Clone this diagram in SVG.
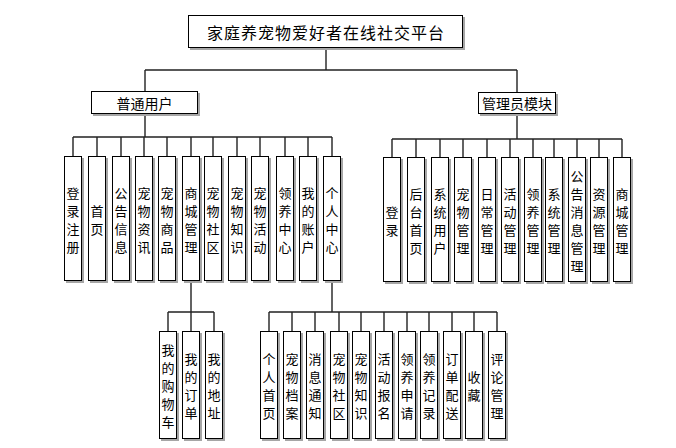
<svg xmlns="http://www.w3.org/2000/svg" width="676" height="448" viewBox="0 0 676 448">
<style>
.sh{fill:#a6a6a6}
.bx{fill:#fff;stroke:#000;stroke-width:1}
.t{font-family:"Noto Sans CJK SC","Noto Sans CJK TC",sans-serif;font-size:13px;text-anchor:middle;dominant-baseline:central;fill:#000}
.h{font-size:14px}
.r{font-size:16px;letter-spacing:1px}
.c{fill:none;stroke:#222;stroke-width:1.4}
</style>
<rect width="676" height="448" fill="#fff"/>
<g id="connectors" class="c">
<path d="M326 48V70M145 70H517M145 70V91M517 70V92"/>
<path d="M145 114V137M73 137H332M73 137V156M97 137V156M121 137V156M144 137V156M167 137V156M191 137V156M213 137V156M237 137V156M260 137V156M285 137V156M308 137V156M332 137V156"/>
<path d="M517 114V139M392 139H622M392 139V157M416 139V157M440 139V157M463 139V157M487 139V157M510 139V157M533 139V157M554 139V157M577 139V157M599 139V157M622 139V157"/>
<path d="M191 281V312M168 312H214M168 312V331M191 312V331M214 312V331"/>
<path d="M332 281V312M269 312H497M269 312V331M292 312V331M315 312V331M339 312V331M361 312V331M384 312V331M407 312V331M429 312V331M452 312V331M474 312V331M497 312V331"/>
</g>
<g id="root"><rect class="sh" x="190" y="17" width="275" height="33"/><rect class="bx" x="188.5" y="15.5" width="274" height="32"/><text class="t r" x="326" y="32">家庭养宠物爱好者在线社交平台</text></g>
<g id="user"><rect class="sh" x="93" y="93" width="107" height="23"/><rect class="bx" x="91.5" y="91.5" width="106" height="22"/><text class="t h" x="144.5" y="102.5">普通用户</text></g>
<g id="admin"><rect class="sh" x="480" y="94" width="78" height="22"/><rect class="bx" x="478.5" y="92.5" width="77" height="21"/><text class="t h" x="517" y="103">管理员模块</text></g>

<g id="u1"><rect class="sh" x="66" y="158" width="18" height="125"/><rect class="bx" x="64.5" y="156.5" width="17" height="124"/><text class="t"><tspan x="73" y="191.5">登</tspan><tspan x="73" y="209.5">录</tspan><tspan x="73" y="227.5">注</tspan><tspan x="73" y="245.5">册</tspan></text></g>
<g id="u2"><rect class="sh" x="90" y="158" width="18" height="125"/><rect class="bx" x="88.5" y="156.5" width="17" height="124"/><text class="t"><tspan x="97" y="209.5">首</tspan><tspan x="97" y="227.5">页</tspan></text></g>
<g id="u3"><rect class="sh" x="114" y="158" width="18" height="125"/><rect class="bx" x="112.5" y="156.5" width="17" height="124"/><text class="t"><tspan x="121" y="191.5">公</tspan><tspan x="121" y="209.5">告</tspan><tspan x="121" y="227.5">信</tspan><tspan x="121" y="245.5">息</tspan></text></g>
<g id="u4"><rect class="sh" x="137" y="158" width="18" height="125"/><rect class="bx" x="135.5" y="156.5" width="17" height="124"/><text class="t"><tspan x="144" y="191.5">宠</tspan><tspan x="144" y="209.5">物</tspan><tspan x="144" y="227.5">资</tspan><tspan x="144" y="245.5">讯</tspan></text></g>
<g id="u5"><rect class="sh" x="160" y="158" width="18" height="125"/><rect class="bx" x="158.5" y="156.5" width="17" height="124"/><text class="t"><tspan x="167" y="191.5">宠</tspan><tspan x="167" y="209.5">物</tspan><tspan x="167" y="227.5">商</tspan><tspan x="167" y="245.5">品</tspan></text></g>
<g id="u6"><rect class="sh" x="184" y="158" width="18" height="125"/><rect class="bx" x="182.5" y="156.5" width="17" height="124"/><text class="t"><tspan x="191" y="191.5">商</tspan><tspan x="191" y="209.5">城</tspan><tspan x="191" y="227.5">管</tspan><tspan x="191" y="245.5">理</tspan></text></g>
<g id="u7"><rect class="sh" x="206" y="158" width="18" height="125"/><rect class="bx" x="204.5" y="156.5" width="17" height="124"/><text class="t"><tspan x="213" y="191.5">宠</tspan><tspan x="213" y="209.5">物</tspan><tspan x="213" y="227.5">社</tspan><tspan x="213" y="245.5">区</tspan></text></g>
<g id="u8"><rect class="sh" x="230" y="158" width="18" height="125"/><rect class="bx" x="228.5" y="156.5" width="17" height="124"/><text class="t"><tspan x="237" y="191.5">宠</tspan><tspan x="237" y="209.5">物</tspan><tspan x="237" y="227.5">知</tspan><tspan x="237" y="245.5">识</tspan></text></g>
<g id="u9"><rect class="sh" x="253" y="158" width="18" height="125"/><rect class="bx" x="251.5" y="156.5" width="17" height="124"/><text class="t"><tspan x="260" y="191.5">宠</tspan><tspan x="260" y="209.5">物</tspan><tspan x="260" y="227.5">活</tspan><tspan x="260" y="245.5">动</tspan></text></g>
<g id="u10"><rect class="sh" x="278" y="158" width="18" height="125"/><rect class="bx" x="276.5" y="156.5" width="17" height="124"/><text class="t"><tspan x="285" y="191.5">领</tspan><tspan x="285" y="209.5">养</tspan><tspan x="285" y="227.5">中</tspan><tspan x="285" y="245.5">心</tspan></text></g>
<g id="u11"><rect class="sh" x="301" y="158" width="18" height="125"/><rect class="bx" x="299.5" y="156.5" width="17" height="124"/><text class="t"><tspan x="308" y="191.5">我</tspan><tspan x="308" y="209.5">的</tspan><tspan x="308" y="227.5">账</tspan><tspan x="308" y="245.5">户</tspan></text></g>
<g id="u12"><rect class="sh" x="325" y="158" width="18" height="125"/><rect class="bx" x="323.5" y="156.5" width="17" height="124"/><text class="t"><tspan x="332" y="191.5">个</tspan><tspan x="332" y="209.5">人</tspan><tspan x="332" y="227.5">中</tspan><tspan x="332" y="245.5">心</tspan></text></g>

<g id="a1"><rect class="sh" x="385" y="159" width="18" height="125"/><rect class="bx" x="383.5" y="157.5" width="17" height="124"/><text class="t"><tspan x="392" y="210.5">登</tspan><tspan x="392" y="228.5">录</tspan></text></g>
<g id="a2"><rect class="sh" x="409" y="159" width="18" height="125"/><rect class="bx" x="407.5" y="157.5" width="17" height="124"/><text class="t"><tspan x="416" y="192.5">后</tspan><tspan x="416" y="210.5">台</tspan><tspan x="416" y="228.5">首</tspan><tspan x="416" y="246.5">页</tspan></text></g>
<g id="a3"><rect class="sh" x="433" y="159" width="18" height="125"/><rect class="bx" x="431.5" y="157.5" width="17" height="124"/><text class="t"><tspan x="440" y="192.5">系</tspan><tspan x="440" y="210.5">统</tspan><tspan x="440" y="228.5">用</tspan><tspan x="440" y="246.5">户</tspan></text></g>
<g id="a4"><rect class="sh" x="456" y="159" width="18" height="125"/><rect class="bx" x="454.5" y="157.5" width="17" height="124"/><text class="t"><tspan x="463" y="192.5">宠</tspan><tspan x="463" y="210.5">物</tspan><tspan x="463" y="228.5">管</tspan><tspan x="463" y="246.5">理</tspan></text></g>
<g id="a5"><rect class="sh" x="480" y="159" width="18" height="125"/><rect class="bx" x="478.5" y="157.5" width="17" height="124"/><text class="t"><tspan x="487" y="192.5">日</tspan><tspan x="487" y="210.5">常</tspan><tspan x="487" y="228.5">管</tspan><tspan x="487" y="246.5">理</tspan></text></g>
<g id="a6"><rect class="sh" x="503" y="159" width="18" height="125"/><rect class="bx" x="501.5" y="157.5" width="17" height="124"/><text class="t"><tspan x="510" y="192.5">活</tspan><tspan x="510" y="210.5">动</tspan><tspan x="510" y="228.5">管</tspan><tspan x="510" y="246.5">理</tspan></text></g>
<g id="a7"><rect class="sh" x="526" y="159" width="18" height="125"/><rect class="bx" x="524.5" y="157.5" width="17" height="124"/><text class="t"><tspan x="533" y="192.5">领</tspan><tspan x="533" y="210.5">养</tspan><tspan x="533" y="228.5">管</tspan><tspan x="533" y="246.5">理</tspan></text></g>
<g id="a8"><rect class="sh" x="547" y="159" width="18" height="125"/><rect class="bx" x="545.5" y="157.5" width="17" height="124"/><text class="t"><tspan x="554" y="192.5">系</tspan><tspan x="554" y="210.5">统</tspan><tspan x="554" y="228.5">管</tspan><tspan x="554" y="246.5">理</tspan></text></g>
<g id="a9"><rect class="sh" x="570" y="159" width="18" height="125"/><rect class="bx" x="568.5" y="157.5" width="17" height="124"/><text class="t"><tspan x="577" y="174.5">公</tspan><tspan x="577" y="192.5">告</tspan><tspan x="577" y="210.5">消</tspan><tspan x="577" y="228.5">息</tspan><tspan x="577" y="246.5">管</tspan><tspan x="577" y="264.5">理</tspan></text></g>
<g id="a10"><rect class="sh" x="592" y="159" width="18" height="125"/><rect class="bx" x="590.5" y="157.5" width="17" height="124"/><text class="t"><tspan x="599" y="192.5">资</tspan><tspan x="599" y="210.5">源</tspan><tspan x="599" y="228.5">管</tspan><tspan x="599" y="246.5">理</tspan></text></g>
<g id="a11"><rect class="sh" x="615" y="159" width="18" height="125"/><rect class="bx" x="613.5" y="157.5" width="17" height="124"/><text class="t"><tspan x="622" y="192.5">商</tspan><tspan x="622" y="210.5">城</tspan><tspan x="622" y="228.5">管</tspan><tspan x="622" y="246.5">理</tspan></text></g>

<g id="m1"><rect class="sh" x="161" y="333" width="18" height="108"/><rect class="bx" x="159.5" y="331.5" width="17" height="107"/><text class="t"><tspan x="168" y="349">我</tspan><tspan x="168" y="367">的</tspan><tspan x="168" y="385">购</tspan><tspan x="168" y="403">物</tspan><tspan x="168" y="421">车</tspan></text></g>
<g id="m2"><rect class="sh" x="184" y="333" width="18" height="108"/><rect class="bx" x="182.5" y="331.5" width="17" height="107"/><text class="t"><tspan x="191" y="358">我</tspan><tspan x="191" y="376">的</tspan><tspan x="191" y="394">订</tspan><tspan x="191" y="412">单</tspan></text></g>
<g id="m3"><rect class="sh" x="207" y="333" width="18" height="108"/><rect class="bx" x="205.5" y="331.5" width="17" height="107"/><text class="t"><tspan x="214" y="358">我</tspan><tspan x="214" y="376">的</tspan><tspan x="214" y="394">地</tspan><tspan x="214" y="412">址</tspan></text></g>

<g id="p1"><rect class="sh" x="262" y="333" width="18" height="108"/><rect class="bx" x="260.5" y="331.5" width="17" height="107"/><text class="t"><tspan x="269" y="358">个</tspan><tspan x="269" y="376">人</tspan><tspan x="269" y="394">首</tspan><tspan x="269" y="412">页</tspan></text></g>
<g id="p2"><rect class="sh" x="285" y="333" width="18" height="108"/><rect class="bx" x="283.5" y="331.5" width="17" height="107"/><text class="t"><tspan x="292" y="358">宠</tspan><tspan x="292" y="376">物</tspan><tspan x="292" y="394">档</tspan><tspan x="292" y="412">案</tspan></text></g>
<g id="p3"><rect class="sh" x="308" y="333" width="18" height="108"/><rect class="bx" x="306.5" y="331.5" width="17" height="107"/><text class="t"><tspan x="315" y="358">消</tspan><tspan x="315" y="376">息</tspan><tspan x="315" y="394">通</tspan><tspan x="315" y="412">知</tspan></text></g>
<g id="p4"><rect class="sh" x="332" y="333" width="18" height="108"/><rect class="bx" x="330.5" y="331.5" width="17" height="107"/><text class="t"><tspan x="339" y="358">宠</tspan><tspan x="339" y="376">物</tspan><tspan x="339" y="394">社</tspan><tspan x="339" y="412">区</tspan></text></g>
<g id="p5"><rect class="sh" x="354" y="333" width="18" height="108"/><rect class="bx" x="352.5" y="331.5" width="17" height="107"/><text class="t"><tspan x="361" y="358">宠</tspan><tspan x="361" y="376">物</tspan><tspan x="361" y="394">知</tspan><tspan x="361" y="412">识</tspan></text></g>
<g id="p6"><rect class="sh" x="377" y="333" width="18" height="108"/><rect class="bx" x="375.5" y="331.5" width="17" height="107"/><text class="t"><tspan x="384" y="358">活</tspan><tspan x="384" y="376">动</tspan><tspan x="384" y="394">报</tspan><tspan x="384" y="412">名</tspan></text></g>
<g id="p7"><rect class="sh" x="400" y="333" width="18" height="108"/><rect class="bx" x="398.5" y="331.5" width="17" height="107"/><text class="t"><tspan x="407" y="358">领</tspan><tspan x="407" y="376">养</tspan><tspan x="407" y="394">申</tspan><tspan x="407" y="412">请</tspan></text></g>
<g id="p8"><rect class="sh" x="422" y="333" width="18" height="108"/><rect class="bx" x="420.5" y="331.5" width="17" height="107"/><text class="t"><tspan x="429" y="358">领</tspan><tspan x="429" y="376">养</tspan><tspan x="429" y="394">记</tspan><tspan x="429" y="412">录</tspan></text></g>
<g id="p9"><rect class="sh" x="445" y="333" width="18" height="108"/><rect class="bx" x="443.5" y="331.5" width="17" height="107"/><text class="t"><tspan x="452" y="358">订</tspan><tspan x="452" y="376">单</tspan><tspan x="452" y="394">配</tspan><tspan x="452" y="412">送</tspan></text></g>
<g id="p10"><rect class="sh" x="467" y="333" width="18" height="108"/><rect class="bx" x="465.5" y="331.5" width="17" height="107"/><text class="t"><tspan x="474" y="376">收</tspan><tspan x="474" y="394">藏</tspan></text></g>
<g id="p11"><rect class="sh" x="490" y="333" width="18" height="108"/><rect class="bx" x="488.5" y="331.5" width="17" height="107"/><text class="t"><tspan x="497" y="358">评</tspan><tspan x="497" y="376">论</tspan><tspan x="497" y="394">管</tspan><tspan x="497" y="412">理</tspan></text></g>
</svg>
